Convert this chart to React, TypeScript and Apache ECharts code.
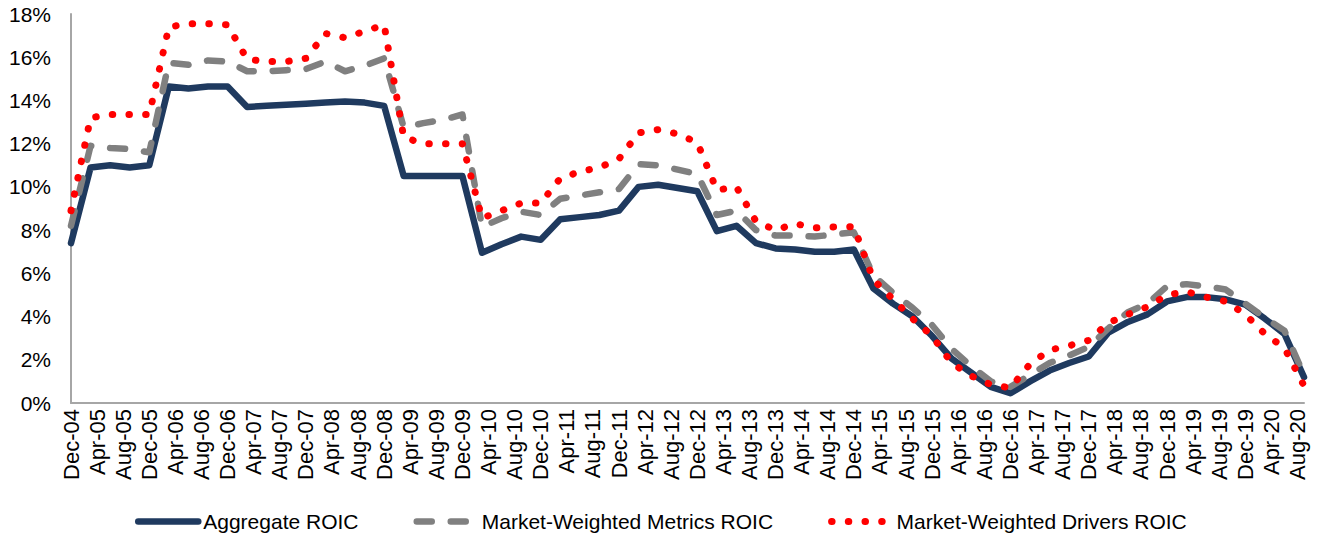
import React, { useEffect, useRef } from "react";
import * as echarts from "echarts";

// Quarter-end observation dates
const quarterDates = [
  "Dec-04",
  "Mar-05", "Jun-05", "Sep-05", "Dec-05",
  "Mar-06", "Jun-06", "Sep-06", "Dec-06",
  "Mar-07", "Jun-07", "Sep-07", "Dec-07",
  "Mar-08", "Jun-08", "Sep-08", "Dec-08",
  "Mar-09", "Jun-09", "Sep-09", "Dec-09",
  "Mar-10", "Jun-10", "Sep-10", "Dec-10",
  "Mar-11", "Jun-11", "Sep-11", "Dec-11",
  "Mar-12", "Jun-12", "Sep-12", "Dec-12",
  "Mar-13", "Jun-13", "Sep-13", "Dec-13",
  "Mar-14", "Jun-14", "Sep-14", "Dec-14",
  "Mar-15", "Jun-15", "Sep-15", "Dec-15",
  "Mar-16", "Jun-16", "Sep-16", "Dec-16",
  "Mar-17", "Jun-17", "Sep-17", "Dec-17",
  "Mar-18", "Jun-18", "Sep-18", "Dec-18",
  "Mar-19", "Jun-19", "Sep-19", "Dec-19",
  "Mar-20", "Jun-20", "Sep-20",
];

// Axis tick labels (every 4 months)
const tickLabels = [
  "Dec-04", "Apr-05", "Aug-05", "Dec-05", "Apr-06", "Aug-06", "Dec-06",
  "Apr-07", "Aug-07", "Dec-07", "Apr-08", "Aug-08", "Dec-08",
  "Apr-09", "Aug-09", "Dec-09", "Apr-10", "Aug-10", "Dec-10",
  "Apr-11", "Aug-11", "Dec-11", "Apr-12", "Aug-12", "Dec-12",
  "Apr-13", "Aug-13", "Dec-13", "Apr-14", "Aug-14", "Dec-14",
  "Apr-15", "Aug-15", "Dec-15", "Apr-16", "Aug-16", "Dec-16",
  "Apr-17", "Aug-17", "Dec-17", "Apr-18", "Aug-18", "Dec-18",
  "Apr-19", "Aug-19", "Dec-19", "Apr-20", "Aug-20",
];

// Series values (%)
const aggregateRoic = [
  7.4, 10.9, 11.0, 10.9, 11.0, 14.65, 14.55, 14.65, 14.65, 13.7,
  13.75, 13.8, 13.85, 13.9, 13.95, 13.9, 13.75, 10.5, 10.5, 10.5,
  10.5, 6.95, 7.35, 7.7, 7.55, 8.5, 8.6, 8.7, 8.9, 10.0,
  10.1, 9.95, 9.8, 7.95, 8.2, 7.4, 7.15, 7.1, 7.0, 7.0,
  7.1, 5.3, 4.6, 4.0, 3.1, 2.05, 1.4, 0.75, 0.45, 1.0,
  1.5, 1.85, 2.15, 3.25, 3.75, 4.1, 4.7, 4.9, 4.9, 4.8,
  4.55, 3.9, 3.2, 1.2,
];

const metricsRoic = [
  8.2, 11.9, 11.8, 11.75, 11.6, 15.75, 15.65, 15.85, 15.8, 15.35,
  15.35, 15.4, 15.45, 15.8, 15.35, 15.6, 15.95, 12.75, 12.95, 13.1,
  13.35, 8.15, 8.55, 8.85, 8.7, 9.45, 9.6, 9.75, 9.9, 11.05,
  11.0, 10.8, 10.6, 8.7, 8.9, 8.0, 7.75, 7.75, 7.7, 7.8,
  7.9, 5.9, 5.1, 4.4, 3.6, 2.5, 1.7, 1.0, 0.75, 1.3,
  1.85, 2.2, 2.6, 3.45, 4.2, 4.6, 5.4, 5.5, 5.4, 5.25,
  4.6, 3.95, 3.35, 1.3,
];

const driversRoic = [
  8.9, 13.2, 13.35, 13.35, 13.35, 17.4, 17.55, 17.55, 17.5, 15.9,
  15.8, 15.8, 15.95, 17.1, 16.9, 17.2, 17.5, 12.3, 12.0, 12.0,
  12.0, 8.55, 8.9, 9.25, 9.25, 10.4, 10.7, 10.9, 11.3, 12.5,
  12.65, 12.45, 12.05, 9.85, 10.0, 8.4, 8.0, 8.3, 8.1, 8.15,
  8.15, 5.7, 4.8, 3.9, 3.1, 1.85, 1.25, 0.85, 0.7, 1.8,
  2.45, 2.65, 2.9, 3.7, 4.1, 4.45, 5.0, 5.15, 4.9, 4.7,
  4.1, 3.2, 2.55, 0.8,
];

const seriesNames = [
  "Aggregate ROIC",
  "Market-Weighted Metrics ROIC",
  "Market-Weighted Drivers ROIC",
];

const MONTHS = ["Jan", "Feb", "Mar", "Apr", "May", "Jun", "Jul", "Aug", "Sep", "Oct", "Nov", "Dec"];
// months elapsed since Dec-04
function monthOffset(label: string): number {
  const [m, y] = label.split("-");
  return (Number(y) + 2000 - 2004) * 12 + MONTHS.indexOf(m) - 11;
}
const lastMonth = monthOffset(quarterDates[quarterDates.length - 1]);

const FONT = "'Liberation Sans', Arial, Helvetica, sans-serif";

export default function App() {
  const ref = useRef<HTMLDivElement>(null);
  useEffect(() => {
    document.body.style.margin = "0";
    if (!ref.current) return;
    const chart = echarts.init(ref.current, null, { renderer: "svg" });
    const toData = (arr: number[]) => quarterDates.map((d, i) => [monthOffset(d), arr[i]]);
    const tickMap: Record<number, string> = {};
    tickLabels.forEach((t) => (tickMap[monthOffset(t)] = t));

    chart.setOption({
      animation: false,
      backgroundColor: "#ffffff",
      textStyle: { fontFamily: FONT },
      grid: { left: 71, right: 16, top: 14, bottom: 131, containLabel: false },
      xAxis: {
        type: "value",
        min: 0,
        max: lastMonth,
        interval: 4,
        axisLine: { show: true, lineStyle: { color: "#A6A6A6", width: 2 } },
        axisTick: { show: false },
        splitLine: { show: false },
        axisLabel: {
          rotate: 90,
          margin: 6,
          fontSize: 22,
          color: "#000",
          fontFamily: FONT,
          showMaxLabel: false,
          formatter: (v: number) => tickMap[v] ?? "",
        },
      },
      yAxis: {
        type: "value",
        min: 0,
        max: 18,
        interval: 2,
        axisLine: { show: true, lineStyle: { color: "#A6A6A6", width: 2 } },
        axisTick: { show: false },
        splitLine: { show: false },
        axisLabel: {
          margin: 20,
          fontSize: 21,
          color: "#000",
          fontFamily: FONT,
          formatter: (v: number) => `${v}%`,
        },
      },
      legend: {
        left: 130,
        top: 506,
        itemWidth: 60,
        itemHeight: 14,
        itemGap: 55,
        selectedMode: false,
        textStyle: { fontSize: 21, color: "#000", fontFamily: FONT },
        lineStyle: { width: "inherit" },
        itemStyle: { opacity: 0 },
        data: seriesNames,
      },
      series: [
        {
          name: seriesNames[0],
          type: "line",
          symbol: "none",
          clip: false,
          data: toData(aggregateRoic),
          lineStyle: { color: "#1F3A5F", width: 6.5, cap: "round", join: "round" },
          itemStyle: { color: "#1F3A5F" },
        },
        {
          name: seriesNames[1],
          type: "line",
          symbol: "none",
          clip: false,
          data: toData(metricsRoic),
          lineStyle: { color: "#808080", width: 6.5, type: [15, 19], cap: "round", join: "round" },
          itemStyle: { color: "#808080" },
        },
        {
          name: seriesNames[2],
          type: "line",
          symbol: "none",
          clip: false,
          data: toData(driversRoic),
          lineStyle: { color: "#FF0000", width: 7, type: [0.5, 16.2], cap: "round", join: "round" },
          itemStyle: { color: "#FF0000" },
        },
      ],
    });
    return () => chart.dispose();
  }, []);
  return <div ref={ref} style={{ width: 1320, height: 534 }} />;
}
